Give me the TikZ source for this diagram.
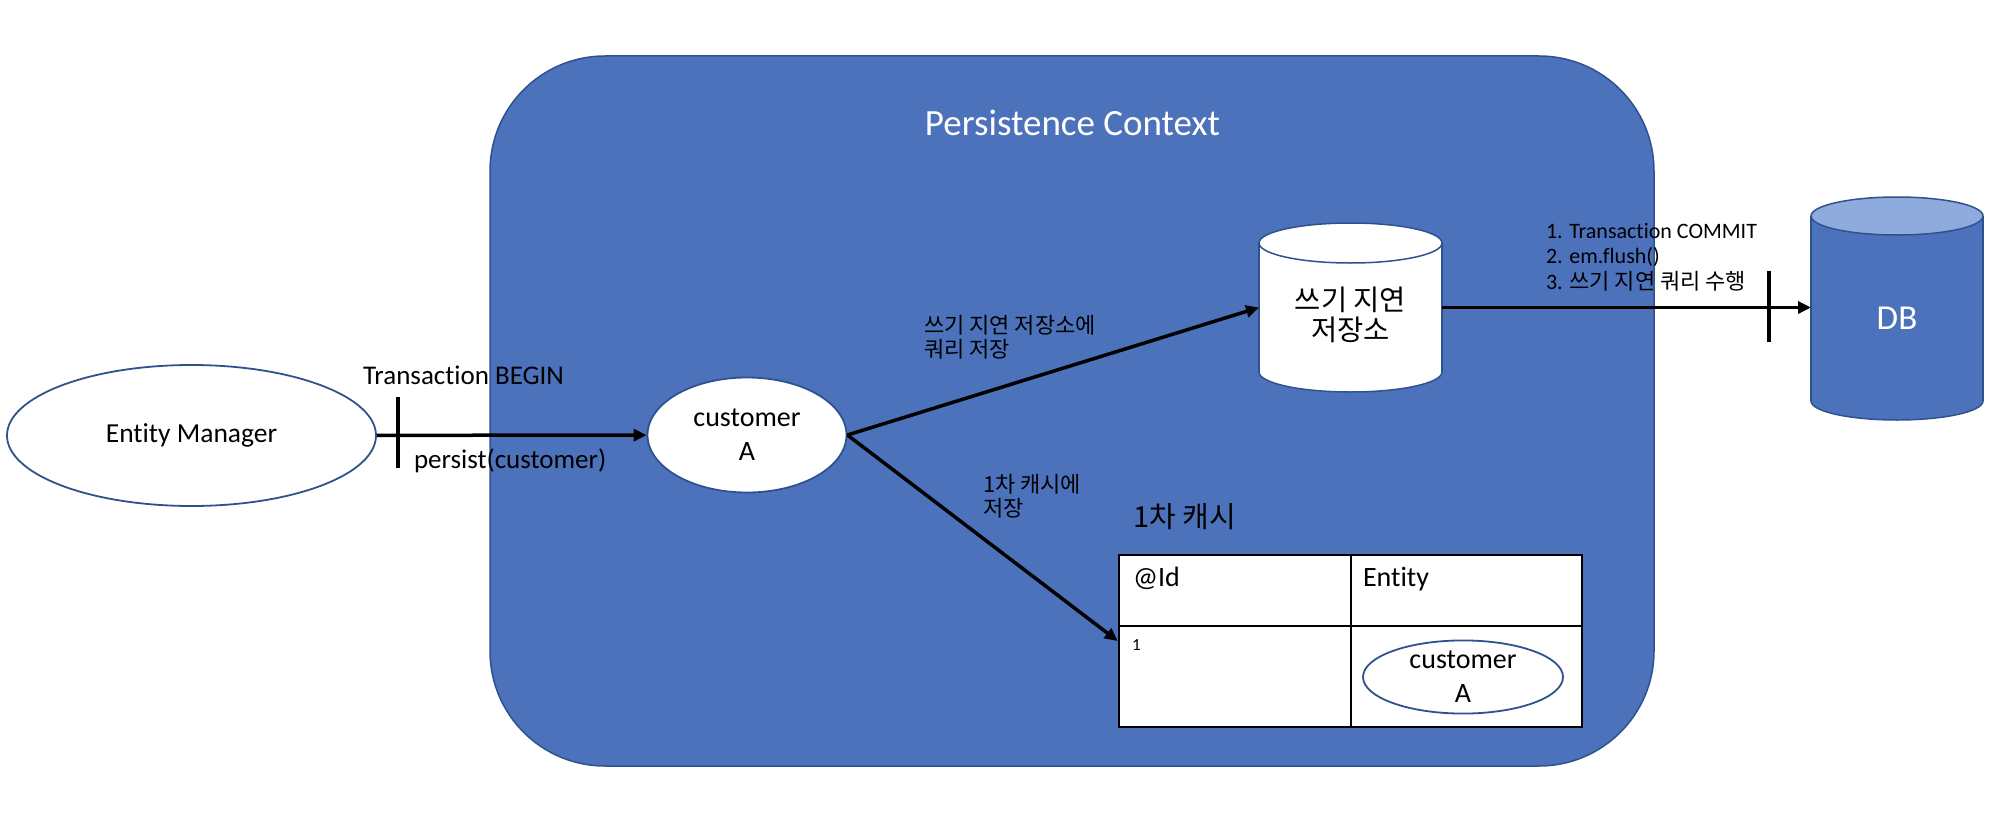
\documentclass[tikz,border=0pt]{standalone}
\usepackage{fontspec}
\setmainfont{Carlito}[Ligatures=NoCommon]
\newfontfamily\kr{Noto Sans CJK KR}
\usetikzlibrary{arrows.meta,shapes.geometric}
\definecolor{pcblue}{HTML}{4C72BC}
\definecolor{edgeblue}{HTML}{2F528F}
\definecolor{dbtop}{HTML}{8FAADC}
\newcommand\fsz[2]{\fontsize{#1}{#2}\selectfont}
\begin{document}
\begin{tikzpicture}[x=1pt,y=-1pt,
  conn/.style={line width=3.5pt,-{Triangle[length=13pt,width=12pt]}},
  tickline/.style={line width=3.5pt},
  ell/.style={ellipse,draw=edgeblue,line width=1.8pt,fill=white,inner sep=0pt,align=center},
  txt/.style={inner sep=0pt,outer sep=0pt},
  container/.style={draw=edgeblue,fill=pcblue,line width=1.5pt,rounded corners=115pt,inner sep=0pt,minimum width=1164pt,minimum height=710pt},
  cylw/.style={draw=edgeblue,line width=1.5pt,fill=white},
  cylb/.style={draw=edgeblue,line width=1.5pt,fill=pcblue},
  cylt/.style={draw=edgeblue,line width=1.5pt,fill=dbtop},
  hollow/.style={inner sep=0pt,outer sep=0pt,draw=none}]
\useasboundingbox (0,0) rectangle (2000,816);

% persistence context
\node[container] (pc) at (1072,411) {};
\node[txt,text=white,font=\fsz{37}{40},anchor=base] (title) at (1072.5,135) {Persistence Context};

% entity manager and customer
\node[ell,minimum width=369pt,minimum height=141pt,font=\fsz{27.5}{30}] (em) at (191.5,435.5) {Entity Manager};
\node[ell,minimum width=199pt,minimum height=115pt,font=\fsz{28}{34}] (ca) at (747,435) {customer\\A};

\draw[conn] (em) -- (ca);
\coordinate (t1a) at (398,397);
\coordinate (t1b) at (398,468);
\draw[tickline] (t1a) -- (t1b);
\node[txt,font=\fsz{27}{30},anchor=base west] (tb) at (363,384) {Transaction BEGIN};
\node[txt,font=\fsz{27}{30},anchor=base west] (pp) at (414,468) {persist(customer)};

% write-behind store cylinder
\filldraw[cylw] (1350.5,372) ellipse [x radius=91.5pt,y radius=20pt];
\fill[white] (1259,243) rectangle (1442,372);
\draw[draw=edgeblue,line width=1.5pt] (1259,243) -- (1259,372) (1442,243) -- (1442,372);
\filldraw[cylw] (1350.5,243) ellipse [x radius=91.5pt,y radius=20pt];
\node[hollow,minimum width=183pt,minimum height=169pt] (wb) at (1350.5,307.5) {};
\node[txt,font=\kr\fsz{28.5}{30},align=center] (wbt) at (1350.5,314.5) {쓰기 지연\\저장소};

% DB cylinder
\filldraw[cylb] (1897,401) ellipse [x radius=86pt,y radius=19pt];
\fill[pcblue] (1811,216) rectangle (1983,401);
\draw[draw=edgeblue,line width=1.5pt] (1811,216) -- (1811,401) (1983,216) -- (1983,401);
\filldraw[cylt] (1897,216) ellipse [x radius=86pt,y radius=19pt];
\node[hollow,minimum width=172pt,minimum height=223pt] (db) at (1897,308.5) {};
\node[txt,text=white,font=\fsz{35}{40}] (dbt) at (1897,318) {DB};

% connectors from customer
\draw[conn] (ca.east) -- (wb.west);
\node[txt,font=\kr\fsz{22}{24},align=left,anchor=west] (l1) at (924,337.5) {쓰기 지연 저장소에\\쿼리 저장};

\draw[conn] (wb.east) -- (wb.east -| db.west);
\coordinate (t2a) at (1769,271);
\coordinate (t2b) at (1769,342);
\draw[tickline] (t2a) -- (t2b);
\node[txt,font=\fsz{22}{25.5},align=left,anchor=west] (l2) at (1546,257) {1. Transaction COMMIT\\2. em.flush()\\3. {\kr\fsz{22}{25.5}쓰기 지연 쿼리 수행}};

% first-level cache table
\node[txt,font=\kr\fsz{29}{30}] (cachet) at (1185,517) {1차 캐시};
\node[draw=black,line width=2.5pt,fill=white,inner sep=0pt,minimum width=463pt,minimum height=172pt] (tbl) at (1350.5,641) {};
\draw[line width=2pt] (1119,626) -- (1582,626);
\draw[line width=2pt] (tbl.north) -- (tbl.south);
\draw[line width=2.5pt] (1119,555) rectangle (1582,727);
\node[txt,font=\fsz{28}{30},anchor=base west] (hid) at (1133,586) {@Id};
\node[txt,font=\fsz{28}{30},anchor=base west] (hent) at (1363,586) {Entity};
\node[txt,font=\fsz{17}{20},anchor=base west] (one) at (1132,650) {1};
\node[ell,minimum width=200pt,minimum height=72pt,font=\fsz{28}{34}] (ca2) at (1463,677) {customer\\A};

\draw[conn] (ca.east) -- (tbl.west);
\node[txt,font=\kr\fsz{22}{24},align=left,anchor=west] (l3) at (983,496) {1차 캐시에\\저장};
\end{tikzpicture}
\end{document}
